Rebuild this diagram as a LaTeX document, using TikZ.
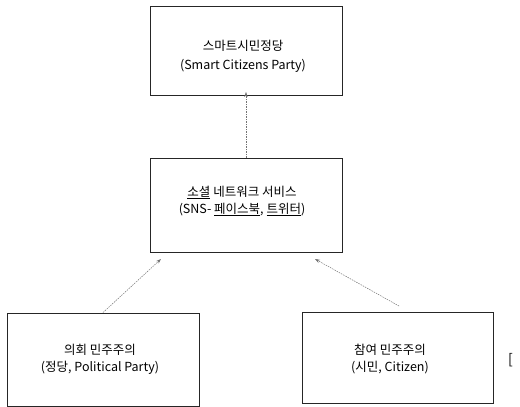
\documentclass[tikz,border=0pt]{standalone}
\usepackage{fontspec}
\setmainfont{Noto Sans CJK KR}
\usetikzlibrary{arrows.meta}
\begin{document}
\begin{tikzpicture}[x=1pt,y=-1pt,
  box/.style={draw=black!85,line width=0.9pt,rectangle,inner sep=0pt,align=center,font=\fontsize{12.5}{18}\selectfont},
  conn/.style={draw=black!55,line width=0.5pt,dash pattern=on 1.5pt off 1pt,-{Stealth[length=5pt,width=3.5pt]}}]
\useasboundingbox (0,0) rectangle (520,407);
\node[box,minimum width=192pt,minimum height=89pt] (top) at (246,51) {};
\node[align=center,font=\fontsize{12.5}{19}\selectfont,inner sep=0pt] (toptxt) at (243,56) {스마트시민정당\\(Smart Citizens Party)};
\node[box,minimum width=192pt,minimum height=94pt] (mid) at (246,205) {};
\node[align=center,font=\fontsize{12.5}{17}\selectfont,inner sep=0pt] (midtxt) at (242,201) {\underline{소셜} 네트워크 서비스\\(SNS- \underline{페이스북}, \underline{트위터})};
\node[box,minimum width=192pt,minimum height=93pt] (bl) at (103,359.5) {};
\node[align=center,font=\fontsize{12.5}{17}\selectfont,inner sep=0pt] (bltxt) at (100,359) {의회 민주주의\\(정당, Political Party)};
\node[box,minimum width=191pt,minimum height=91pt] (br) at (397.5,357.5) {};
\node[align=center,font=\fontsize{12.5}{17}\selectfont,inner sep=0pt] (brtxt) at (390,359) {참여 민주주의\\(시민, Citizen)};
\node[anchor=west,inner sep=0pt,font=\fontsize{14}{14}\selectfont] (brk) at (508,360) {[};
\coordinate (blend) at (161,259);
\coordinate (brend) at (315,259);
\coordinate (brstart) at (399,306);
\draw[conn] (mid.north) -- ([yshift=4pt]top.south);
\draw[conn] (bl.north) -- (blend);
\draw[conn] (brstart) -- (brend);
\end{tikzpicture}
\end{document}
